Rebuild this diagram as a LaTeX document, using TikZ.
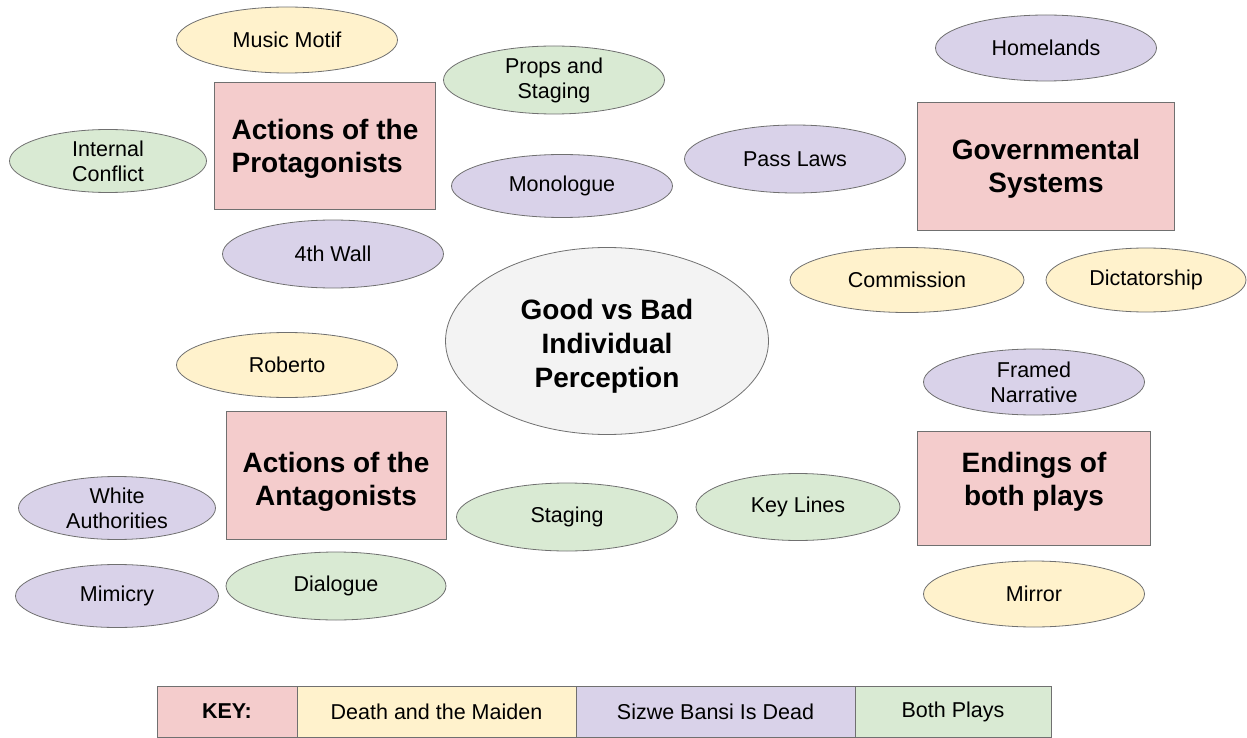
\documentclass[tikz,border=0pt]{standalone}
\usepackage{fontspec}
\setmainfont{Liberation Sans}
\usetikzlibrary{shapes,positioning}
\definecolor{pinkfill}{HTML}{F4CCCC}
\definecolor{yellowfill}{HTML}{FFF2CC}
\definecolor{purplefill}{HTML}{D9D2E9}
\definecolor{greenfill}{HTML}{D9EAD3}
\definecolor{greyfill}{HTML}{F3F3F3}
\definecolor{edgegray}{HTML}{707070}
\begin{document}
\begin{tikzpicture}[x=1pt,y=-1pt]
    % Define Styles
        \tikzstyle{topic} = [rectangle, draw=edgegray, fill=pinkfill, align=center, minimum width=221pt, minimum height=127pt, line width=0.8pt, font=\fontsize{28}{33}\selectfont\bfseries]
        \tikzstyle{idea} = [ellipse, draw=edgegray, inner sep=0pt, align=center, minimum width=221pt, minimum height=66pt, line width=0.8pt, font=\fontsize{21.5}{25}\selectfont]
        \tikzstyle{dmidea} = [idea, fill=yellowfill]
        \tikzstyle{sbidea} = [idea, fill=purplefill]
        \tikzstyle{bothidea} = [idea, fill=greenfill]
        \tikzstyle{keycell} = [rectangle, draw=edgegray, line width=0.8pt, minimum height=51pt, outer sep=0pt, font=\fontsize{21.5}{25}\selectfont]
        \useasboundingbox (0,0) rectangle (1247,738);
    % Centre
        \node [idea, fill=greyfill, minimum width=323pt, minimum height=187pt, text height=98pt, text depth=6pt, font=\fontsize{28}{34}\selectfont\bfseries] (goodbad) at (607,341) {Good vs Bad\\Individual\\Perception};
    % Protagonists
        \node [topic, align=left, text height=59pt, text depth=6pt] (protag) at (325,146) {Actions of the\\Protagonists};
        \node [dmidea] (music) at (287,40) {Music Motif};
        \node [bothidea, minimum height=68pt] (props) at (554,80) {Props and\\Staging};
        \node [bothidea, minimum width=197pt, minimum height=63pt] (internal) at (108,161) {Internal\\Conflict};
        \node [sbidea, minimum height=63pt] (monologue) at (562,186) {Monologue};
        \node [sbidea, minimum height=68pt] (wall) at (333,254) {4th Wall};
    % Governmental systems
        \node [topic, minimum width=257pt, minimum height=128pt, text height=60pt, text depth=6pt] (govt) at (1046,166) {Governmental\\Systems};
        \node [sbidea] (homelands) at (1046,48) {Homelands};
        \node [sbidea, minimum height=68pt] (passlaws) at (795,159) {Pass Laws};
        \node [dmidea, minimum width=234pt, minimum height=65pt] (commission) at (907,280) {Commission};
        \node [dmidea, minimum width=200pt, minimum height=64pt] (dictator) at (1146,280) {Dictatorship};
    % Antagonists
        \node [topic, minimum width=220pt, minimum height=128pt, text height=67pt, text depth=6pt] (antag) at (336,475) {Actions of the\\Antagonists};
        \node [dmidea, minimum height=65pt] (roberto) at (287,365) {Roberto};
        \node [sbidea, minimum width=197pt, minimum height=63pt] (white) at (117,508) {White\\Authorities};
        \node [bothidea, minimum height=68pt] (staging) at (567,517) {Staging};
        \node [sbidea, minimum width=203pt, minimum height=63pt] (mimicry) at (117,596) {Mimicry};
        \node [bothidea, minimum width=220pt, minimum height=68pt] (dialogue) at (336,586) {Dialogue};
    % Endings
        \node [topic, minimum width=233pt, minimum height=114pt, text height=53pt, text depth=18pt] (endings) at (1034,488) {Endings of\\both plays};
        \node [sbidea] (framed) at (1034,382) {Framed\\Narrative};
        \node [bothidea, minimum width=204pt, minimum height=67pt] (keylines) at (798,507) {Key Lines};
        \node [dmidea] (mirror) at (1034,594) {Mirror};
    % Key
        \node [keycell, fill=pinkfill, minimum width=140pt, anchor=north west] (key) at (157,686) {\bfseries KEY:};
        \node [keycell, fill=yellowfill, minimum width=279pt, right=0pt of key] (keydm) {Death and the Maiden};
        \node [keycell, fill=purplefill, minimum width=279pt, right=0pt of keydm] (keysb) {Sizwe Bansi Is Dead};
        \node [keycell, fill=greenfill, minimum width=196pt, right=0pt of keysb] (keyboth) {Both Plays};
\end{tikzpicture}
\end{document}
